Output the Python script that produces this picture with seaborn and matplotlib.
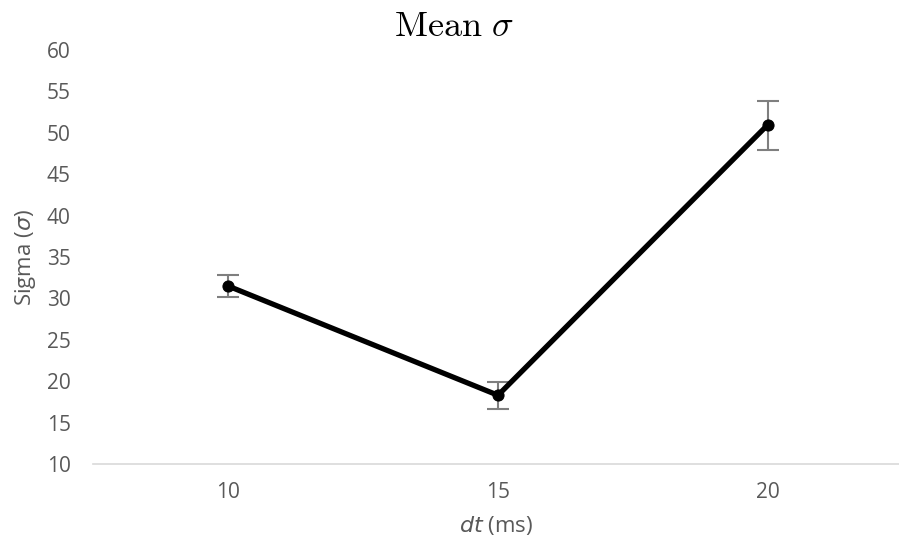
import numpy as np
import pandas as pd
import matplotlib
matplotlib.use("Agg")
import matplotlib.pyplot as plt
import seaborn as sns

dt_labels = ['10', '15', '20']
sigma_mean = [31.5, 18.3, 51.0]
err_low = [30.2, 16.7, 47.9]
err_high = [32.8, 19.9, 53.9]

sns.set_style("white")
plt.rcParams['font.family'] = ['Open Sans', 'DejaVu Sans']

df = pd.DataFrame({'pos': np.arange(len(dt_labels)), 'sigma': sigma_mean})

fig = plt.figure(figsize=(8.99, 5.5), dpi=100)
ax = fig.add_axes([0.1034, 0.1564, 0.8966, 0.7527])

grey = '#595959'
yerr = [np.array(sigma_mean) - np.array(err_low),
        np.array(err_high) - np.array(sigma_mean)]
ax.errorbar(df['pos'], df['sigma'], yerr=yerr, fmt='none', ecolor='#7f7f7f',
            elinewidth=1.5, capsize=8, capthick=1.5, zorder=1)
sns.lineplot(data=df, x='pos', y='sigma', ax=ax, color='black', linewidth=3.8,
             marker='o', markersize=8, markeredgecolor='black', zorder=2)

ax.set_xlim(-0.5, 2.485)
ax.set_ylim(10, 60)
ax.set_yticks(range(10, 61, 5))
ax.set_xticks(df['pos'])
ax.set_xticklabels(dt_labels)

for s in ['top', 'right', 'left']:
    ax.spines[s].set_visible(False)
ax.spines['bottom'].set_color('#d9d9d9')
ax.spines['bottom'].set_linewidth(1.2)
ax.tick_params(axis='both', labelcolor=grey, labelsize=15)
ax.tick_params(axis='y', pad=16, length=0)
ax.tick_params(axis='x', pad=13, direction='in', length=3.5,
               color='#d9d9d9', width=1.2)

fig.text(454 / 899, 1 - 36 / 550, r'$\mathrm{Mean}\ \sigma$', fontsize=26,
         math_fontfamily='cm', color='black', ha='center', va='baseline')
ax.set_xlabel(r'$\mathit{dt}$ (ms)', fontsize=16, color=grey,
              math_fontfamily='dejavusans', labelpad=8)
ax.set_ylabel(r'Sigma ($\sigma$)', fontsize=16, color=grey,
              math_fontfamily='dejavusans', labelpad=6)

fig.savefig('out.png', dpi=100)
